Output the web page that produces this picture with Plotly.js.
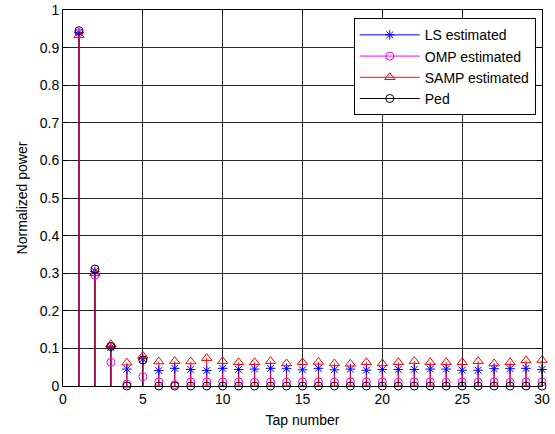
<!DOCTYPE html>
<html>
<head>
<meta charset="utf-8">
<script src="https://cdn.plot.ly/plotly-3.0.1.min.js"></script>
<style>
html,body{margin:0;padding:0;background:#fff;}
#chart{width:555px;height:434px;}
</style>
</head>
<body>
<div id="chart"></div>
<script>
var taps = [1,2,3,4,5,6,7,8,9,10,11,12,13,14,15,16,17,18,19,20,21,22,23,24,25,26,27,28,29,30];
var lsEstimated = [0.940,0.305,0.103,0.045,0.072,0.041,0.047,0.044,0.041,0.047,0.044,0.045,0.047,0.046,0.043,0.047,0.043,0.045,0.042,0.044,0.044,0.044,0.045,0.045,0.042,0.042,0.046,0.046,0.047,0.044];
var ompEstimated = [0.940,0.295,0.063,0.005,0.025,0.011,0.004,0.011,0.011,0.011,0.011,0.010,0.011,0.010,0.011,0.011,0.010,0.011,0.011,0.011,0.010,0.011,0.011,0.010,0.011,0.010,0.011,0.010,0.011,0.011];
var sampEstimated = [0.933,0.300,0.111,0.062,0.080,0.065,0.066,0.065,0.074,0.066,0.063,0.063,0.066,0.060,0.063,0.064,0.060,0.059,0.063,0.060,0.063,0.066,0.063,0.063,0.063,0.066,0.060,0.063,0.068,0.069];
var ped = [0.945,0.311,0.105,0,0.069,0,0,0,0,0,0,0,0,0,0,0,0,0,0,0,0,0,0,0,0,0,0,0,0,0];
var seriesNames = ['LS estimated','OMP estimated','SAMP estimated','Ped'];

var series = [
  {name: seriesNames[0], y: lsEstimated, color: '#0000ff', stem: '#0000ff', symbol: 'asterisk-open', size: 8},
  {name: seriesNames[1], y: ompEstimated, color: '#ff00ff', stem: '#ff00ff', symbol: 'circle-open', size: 8},
  {name: seriesNames[2], y: sampEstimated, color: '#ff0000', stem: '#ff0000', symbol: 'triangle-up-open', size: 9},
  {name: seriesNames[3], y: ped, color: '#000000', stem: 'rgba(0,0,0,0.6)', symbol: 'circle-open', size: 8}
];

var traces = [];
series.forEach(function(s){
  var sx = [], sy = [];
  for (var i = 0; i < taps.length; i++) {
    sx.push(taps[i], taps[i], null);
    sy.push(0, s.y[i], null);
  }
  traces.push({x: sx, y: sy, type: 'scatter', mode: 'lines', line: {color: s.stem, width: 1}, showlegend: false, hoverinfo: 'skip', cliponaxis: false});
});
series.forEach(function(s){
  traces.push({x: taps, y: s.y, type: 'scatter', mode: 'markers', marker: {symbol: s.symbol, size: s.size, color: s.color, line: {color: s.color, width: 1}}, showlegend: false, cliponaxis: false});
});
series.forEach(function(s){
  traces.push({x: [null], y: [null], type: 'scatter', mode: 'lines+markers', name: s.name, line: {color: s.color, width: 1}, marker: {symbol: s.symbol, size: s.size, color: s.color, line: {color: s.color, width: 1}}, showlegend: true});
});

var axisCommon = {
  showline: true, linecolor: '#000', linewidth: 1, mirror: 'ticks',
  ticks: 'inside', ticklen: 5, tickcolor: '#000', tickwidth: 1,
  showgrid: true, gridcolor: '#262626', gridwidth: 1,
  zeroline: false, tickfont: {family: 'Liberation Sans, Arial, sans-serif', size: 14, color: '#000'}
};

var layout = {
  width: 555, height: 434, autosize: false,
  margin: {l: 63, r: 13, t: 10, b: 48},
  paper_bgcolor: '#fff', plot_bgcolor: '#fff',
  font: {family: 'Liberation Sans, Arial, sans-serif', size: 14, color: '#000'},
  xaxis: Object.assign({}, axisCommon, {range: [0, 30], tickvals: [0,5,10,15,20,25,30], ticktext: ['0','5','10','15','20','25','30'], title: {text: 'Tap number', font: {size: 14}, standoff: 9}}),
  yaxis: Object.assign({}, axisCommon, {range: [0, 1], tickvals: [0,0.1,0.2,0.3,0.4,0.5,0.6,0.7,0.8,0.9,1], ticktext: ['0','0.1','0.2','0.3','0.4','0.5','0.6','0.7','0.8','0.9','1'], title: {text: 'Normalized power', font: {size: 14}, standoff: 8}}),
  legend: {x: 0.987, xanchor: 'right', y: 0.978, yanchor: 'top', bgcolor: '#fff', bordercolor: '#000', borderwidth: 1, font: {size: 14}, itemwidth: 60, tracegroupgap: 0},
  showlegend: true
};

Plotly.newPlot('chart', traces, layout, {staticPlot: true, displayModeBar: false});
</script>
</body>
</html>
